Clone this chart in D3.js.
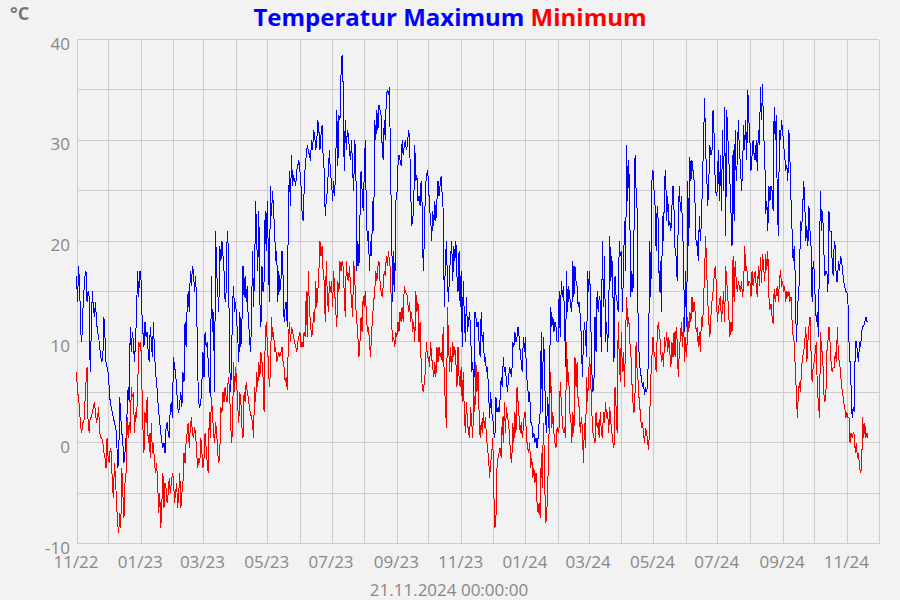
<!DOCTYPE html>
<html><head><meta charset="utf-8">
<script src="https://cdn.jsdelivr.net/npm/d3@7"></script>
<style>
html,body{margin:0;padding:0;background:#f2f2f2;}
svg{display:block;font-family:"Open Sans",sans-serif;}
</style></head><body>
<svg id="chart" width="900" height="600"></svg>
<script>
// ---- data (daily values from 2022-11-01 to 2024-11-21) ----
const startDate = new Date(2022, 10, 1);
const domainEnd = new Date(2024, 11, 1);
const maxTemps = [
// 2022-11
16.5,14,17.5,15.5,11,10,13,15,16.5,17,14,15,14.5,7,11,15,13.5,12.5,14,12,11,10.5,9.5,8.5,8,8.5,12.5,10.5,8,7.5,
// 2022-12
7,5.5,4,3.5,3,2.5,2,1.5,1,-2.5,-2,4.5,2.5,1,0,-2,-1,0.5,3,5.5,4,11.5,9,11,10,8,10,13,17,14.5,17,
// 2023-01
17,13,11,9.5,12,10.5,11,9,8,11.5,10,8.5,12,9,7,6,4.5,3,2,1,0,-0.5,0,-1,1.5,2,1,0.5,3.5,4,2.5,
// 2023-02
8.5,7.5,7,5.5,3.5,3,4,5,3.5,7,6,12,9.5,13.5,15,13,17,15.5,17.5,17,15,16.5,14,7,4,3.5,4,6,
// 2023-03
9,6.5,11,9.5,10,8,6,4.5,16.5,11,13,5,21,17,15,13,19.5,18,20,18.5,17,14,15,21,19.5,11,5,7,13.5,15.5,13,
// 2023-04
14,12,10.5,8,13,9.5,12,17.5,14.5,16.5,14,15.5,12,11,9,11.5,19,13.5,17,24,20,17,23,14,11.5,17.5,15,16,23,19,
// 2023-05
24,19,14,25.5,22.5,25,23,21,18,19,14,17,15,16,19,16.5,12,13.5,14,11.5,23,27,23.5,28.5,25.5,26.5,26,25.5,27,27.5,28,
// 2023-06
27,25.5,23,22,25,27.5,28.5,29.5,29,28.5,28,30,29,31,30.5,29,30,32,31,29,30.5,31.5,28.5,27,22.5,24,25,27,29,26.5,
// 2023-07
26,24,26,24.5,28,33,27.5,32.5,32,36.5,38.5,35.5,27,32,29,31,30.5,29,28,30,27,25,30,28.5,17,20,17.5,22.5,27,25,23,
// 2023-08
26.5,30,23,20,21,17,20,18.5,24,21,32,30,33,31,33.5,33,32.5,29.5,28,32,30,34.5,35,34.5,35.3,27,21.5,14,19,15,24,
// 2023-09
24.5,27.5,28.5,28,27.5,30,28.5,29.5,30,29,29.5,31,30.5,25.5,21.5,22,23.5,29.5,26,26.5,24,24.5,23.5,26,23.5,17,20,25,26.5,27,
// 2023-10
26,23,22.5,20,23,21.5,24,22,24,26,24.5,25.5,26.5,24.5,23,13.5,18,20,16,14,17,18.5,20,16,19.5,18,20,16.5,15,19,13.5,
// 2023-11
17,9.5,16,12.5,10,14.5,11,12,13,11,7,8,5,13,12.5,11.5,12,10,8.5,13,10,11,8,8.5,7,7.5,5,2.5,5,3,
// 2023-12
2.5,1,0.5,4.5,3,3.5,3,4.5,6.5,5.5,8.5,7,7.5,6,5,6.5,7.5,7,6.5,10,9.5,11,10,10.5,11.5,10.5,9,8,7,10.5,9,
// 2024-01
10.5,6.5,6,4,5,2,2,0.5,1,0,0.5,-0.5,0.5,2,3,11,3,10.5,8.5,2.5,1,4.5,1.5,8,13.5,11.5,12.5,11,12,11.5,10,
// 2024-02
10,15,10.5,16,14.5,15.5,13,7.5,17,13,15.5,14.5,13.5,13,18,14.5,17.5,16,15.5,13.5,14,12.5,10.5,6.5,10,12,10.5,8.5,17,
// 2024-03
15,17,12,7,5,6,12.5,9,15,13,14.5,14,9,20,13.5,18.5,10,12,9,13,20.5,16,18.5,15,8,16.5,14.5,14,13,20,18.5,
// 2024-04
19,13,17,22,17,29.5,24,28,23,14.5,17,15,21,28.5,25,23,10.5,8.5,7,6.5,5.5,6,4.7,5.5,5,6,10.5,20,14.5,26,
// 2024-05
27,25,23.5,19,23.5,22,15,18,13,22.5,20,26,27,22,24.5,21.5,22,21,23.5,25.5,23,19,18.5,16,22,25.5,23,24.5,21.5,18.5,11,
// 2024-06
17,11.5,26,19.5,28.3,26,28,27,26,23.5,19.5,20,18,22.5,20,22,26,30,34.2,29,26.5,23.5,26,29.5,28.5,29,33,30.5,26,24.5,
// 2024-07
25,29,24,28.5,23,31,25,33.3,20.5,33,30.5,28,26,23,19.5,29,22,31,26,28,32,29,27.5,25,27,31.5,29,32,28,35,32,
// 2024-08
30,27,28.5,30,28.5,28,30,27,31,29.5,35.3,32,35.6,30.5,29,22.7,24,21,25.5,24,25.5,25,23,33.3,30,32.5,23.5,20.5,31,30,32,
// 2024-09
31,29.5,28.5,27,27.5,26,31,28,24,21,18,19.5,16.5,10,12.5,15,16,22,21,23,26,24,20,21.5,19.5,23.5,21,19.5,14,18,
// 2024-10
17,14,12,13,10.5,19,25,21,23,19.5,16.5,17,17,15,23,21,21,18,16.5,20,19.5,16,16,18,17,18.5,18,17,16,15.5,15,
// 2024-11
15,14,10,8,5.5,2.5,3.5,3,10,10,9,8,10,9.5,11,11.5,11.5,12,12.5,12,12
];
const minTemps = [
// 2022-11
7,5,4.5,3,1.5,1,2,2,4,6,7.5,2,1,2.5,2.5,3,3.5,4,3,2,2.5,3.5,1,0.5,0.5,0,-1,-1.5,-2.5,0.5,
// 2022-12
-1.5,-2,-0.5,-1,-4,-5.5,-2,-3.5,-6,-8,-9,-7,-8.5,-2.5,-5,-7.5,-4,-3,2.5,0.5,2,1,5.5,4.5,5,1,3,2.5,5,10,9.5,
// 2023-01
10,6,1.5,-1,3,2,4.5,0,1,-1.5,2,-1,0,-2,-3,-2,-4,-7,-5,-8.5,-6,-3,-6.5,-4,-4.5,-6,-5,-3.5,-5,-4,-3,
// 2023-02
-3.5,-6,-5,-4,-6.5,-5,-3,-6.5,-5,-4,-1,-2,0,1,2,-0.5,1.5,2.5,1,0.5,1.5,1,-1,-2.5,-1.5,-2,0.5,-1,
// 2023-03
-2.5,-1.5,1,-0.5,-2,-3,3,0.5,4.5,3,1,0,2,1,-1,-2,-1,3.5,3,5,4,5.5,4.5,4,6.5,5.5,3,0,1,8,5,
// 2023-04
7.5,6,3.5,2,5,4,1.5,0.5,5,4,6,5,4.5,3.5,3,2.5,2,0.5,5.5,4,7,5.5,8,6.5,9,8,6.5,3,10,12,
// 2023-05
10,8,5.5,7,12.5,10.5,11,9,9.5,8,8.5,9,8.5,9,9.5,8,7.5,6,6.5,5.2,10,12,10,11.5,11,10.5,10,9.5,9,10,10.5,
// 2023-06
11,9.5,10,9.5,11,10.5,15,10.5,17,13,12,10.5,11,13,12,16,13.5,15,17,20,18.5,19.5,17,16,12,18,14.5,13,16,15,
// 2023-07
16,13.5,17,15,13,11.5,16,15,18,17,18,17.5,15,12.5,18,16.5,16,17.5,15.5,14,12.5,18,16.5,13.5,12,10.5,8.5,10,12.5,11,14.5,
// 2023-08
13.5,15,13,11,11.5,10,8.5,11,12.5,14,15,17,16,17.5,18,16,15,14.5,15.5,17,16.5,18.5,17.5,19,18,17,12,10,10.5,9.5,11,
// 2023-09
10.5,12,11,13,12,13.5,12,15.5,15,14.8,14.5,13,14,12,13,11,12,10,15,13,14,10,12,8,5.5,5,6,7,10,8.5,
// 2023-10
8.5,7.5,10,8.5,7.5,6.5,8,6.5,9.5,8,9.5,8.5,9,8,11.5,6,4,1.5,13.5,10,7,9.5,7,10,8.5,9.5,8,5.5,9.5,6.5,5.5,
// 2023-11
7.5,4,7,3,1,4,2,1,0.5,3.5,2,0.5,5,3,8,5,7,3,0.5,2,1,3,1.5,2.5,0.5,-0.5,-1.5,-3.5,-2,-1,
// 2023-12
0.5,-5,-8.5,-7.5,-2.5,-1.5,-1,-0.5,-1.5,2.5,0,4,1,3.5,2.5,2,0.5,-1.5,-2,2,0,3,1,5.5,4,2.5,1,2,0.5,1.5,3,
// 2024-01
3,0.5,-0.5,-1,0,-2.5,-1.5,-3.5,-2.5,-4,-3,-6,-7,-6,-7.5,-1,-4.5,2,-1.5,-8,-7.5,-5,-1,4,7,1.5,3,1,0,-0.5,1.5,
// 2024-02
1,1.5,6,4,2,1,1.5,0.5,10,6,7,3,2.5,0,3,1,8.5,5.5,8,4,3.5,1,2.5,1.5,-2,2,-0.5,6.5,4,
// 2024-03
7,8.5,6,3,1,0.5,0,3,1.5,2,0.5,3,1,0.5,3,2,4,2.5,3,1,3.5,2,1,0,-0.5,5.5,3.5,1,12,8.5,6,
// 2024-04
11,7,9,5.5,10.5,14.5,11.5,12.5,10,9,6,4,3,5,10,7,6,4,3,1.5,2,1,0,1.5,1,0,-0.7,3,6.5,8.5,
// 2024-05
10.5,9,8.5,7,10.5,12,11,10,8,9,7.5,10.5,9.5,11,9,10.5,9,7.5,10,8.5,11,8.5,11.5,10,6.5,9,10.5,12,9.5,12.5,8,
// 2024-06
10.5,8.5,12.5,11,13,12,14.5,13,14,13,11,11.5,9.5,11,9,12.5,11.5,14,17,20.5,17,14,12,10.5,12.5,14,15,16.5,17.5,16,
// 2024-07
12,13,14,14.5,12,13.5,15,12,17.5,16,14.5,12.5,10.5,12,11,18.5,14,18,16,15,16,15.5,15,16,14.5,15.5,19.5,17,17.5,15.5,16,
// 2024-08
16,14.5,17,15.5,16.5,17,15.5,14.5,17.5,15.5,18.4,15.8,18.7,17.5,16,18.7,17.1,19,14.5,13.2,13.8,12.5,11.8,15.2,14,14.8,15.5,14,16,17.1,15.5,
// 2024-09
16,15,15.5,14,15,14.5,15,14,14.5,12,10.5,10,7.5,5,2.5,5,6,5,7.5,8.5,9,10,11.5,8,10,11.5,12.5,9,6,7.5,
// 2024-10
8,9,10,5,4,2.5,11,9,9,5,4,4.5,9,10,11.5,10,8,7,7.5,7.5,9,8,11.5,8.5,8,7,5.5,5,4,3.5,2.5,
// 2024-11
3,2.5,2.5,0,1,0.5,1,0.8,-1,0,-1.5,-1,-2.5,-3,-2.5,2.5,0.5,2,0.5,1,0.5
];
const yTickValues = [-10, 0, 10, 20, 30, 40];
const yGridValues = [-10, -5, 0, 5, 10, 15, 20, 25, 30, 35, 40];
const xTickLabels = ["11/22","01/23","03/23","05/23","07/23","09/23","11/23","01/24","03/24","05/24","07/24","09/24","11/24"];
const titleMax = "Temperatur Maximum";
const titleMin = "Minimum";
const unitLabel = "°C";
const footerLabel = "21.11.2024 00:00:00";

// ---- chart ----
const svg = d3.select("#chart");
const W = 900, H = 600;
svg.append("rect").attr("width", W).attr("height", H).attr("fill", "#f2f2f2");

const x = d3.scaleTime().domain([startDate, domainEnd]).range([76.5, 878.5]);
const y = d3.scaleLinear().domain([-10, 40]).range([543.5, 39.5]);

const toSeries = arr => arr.map((v, i) => ({date: d3.timeDay.offset(startDate, i), v}));
const maxSeries = toSeries(maxTemps);
const minSeries = toSeries(minTemps);

// grid
const grid = svg.append("g").attr("shape-rendering", "crispEdges");
const months = d3.timeMonth.range(startDate, d3.timeDay.offset(domainEnd, 1));
grid.selectAll("line.v").data(months).join("line")
  .attr("x1", d => Math.round(x(d)) + 0.5).attr("x2", d => Math.round(x(d)) + 0.5)
  .attr("y1", y(40)).attr("y2", y(-10))
  .attr("stroke", "#cccccc").attr("stroke-width", 1);
grid.selectAll("line.h").data(yGridValues).join("line")
  .attr("x1", x(startDate)).attr("x2", x(domainEnd))
  .attr("y1", d => y(d)).attr("y2", d => y(d))
  .attr("stroke", "#cccccc").attr("stroke-width", 1);

// y labels (plain hyphen-minus, as in the reference)
const yAxis = d3.axisLeft(y).tickValues(yTickValues).tickSize(0).tickPadding(0).tickFormat(d => String(d));
const gy = svg.append("g").attr("transform", "translate(70,0)").call(yAxis);
gy.select(".domain").remove();
gy.selectAll("text").attr("font-family", "Open Sans").attr("font-size", 17)
  .attr("fill", "#888888").attr("dy", "0.62em").attr("y", -1);

// x labels
const xTicks = d3.timeMonth.every(2).range(startDate, d3.timeDay.offset(domainEnd, 1)).slice(0, xTickLabels.length);
const xAxis = d3.axisBottom(x).tickValues(xTicks).tickSize(0).tickPadding(0)
  .tickFormat((d, i) => xTickLabels[i]);
const gx = svg.append("g").attr("transform", "translate(-1,555)").call(xAxis);
gx.select(".domain").remove();
gx.selectAll("text").attr("font-family", "Open Sans").attr("font-size", 17)
  .attr("fill", "#888888").attr("dy", "0.74em").attr("y", 0);

// lines
const line = d3.line().x(d => x(d.date)).y(d => y(d.v));
svg.append("path").datum(maxSeries).attr("d", line)
  .attr("fill", "none").attr("stroke", "#0000ff").attr("stroke-width", 1)
  .attr("shape-rendering", "crispEdges");
svg.append("path").datum(minSeries).attr("d", line)
  .attr("fill", "none").attr("stroke", "#ff0000").attr("stroke-width", 1)
  .attr("shape-rendering", "crispEdges");

// title
const title = svg.append("text").attr("x", 450).attr("y", 26).attr("text-anchor", "middle")
  .attr("font-family", "Open Sans").attr("font-weight", "bold").attr("font-size", 24);
title.append("tspan").attr("fill", "#0000ff").text(titleMax + " ");
title.append("tspan").attr("fill", "#ff0000").text(titleMin);

svg.append("text").attr("x", 10).attr("y", 20)
  .attr("font-family", "Open Sans").attr("font-weight", "bold").attr("font-size", 18)
  .attr("fill", "#777777").text(unitLabel);

svg.append("text").attr("x", 449).attr("y", 596).attr("text-anchor", "middle")
  .attr("font-family", "Open Sans").attr("font-size", 17)
  .attr("fill", "#888888").text(footerLabel);
</script>
</body></html>
